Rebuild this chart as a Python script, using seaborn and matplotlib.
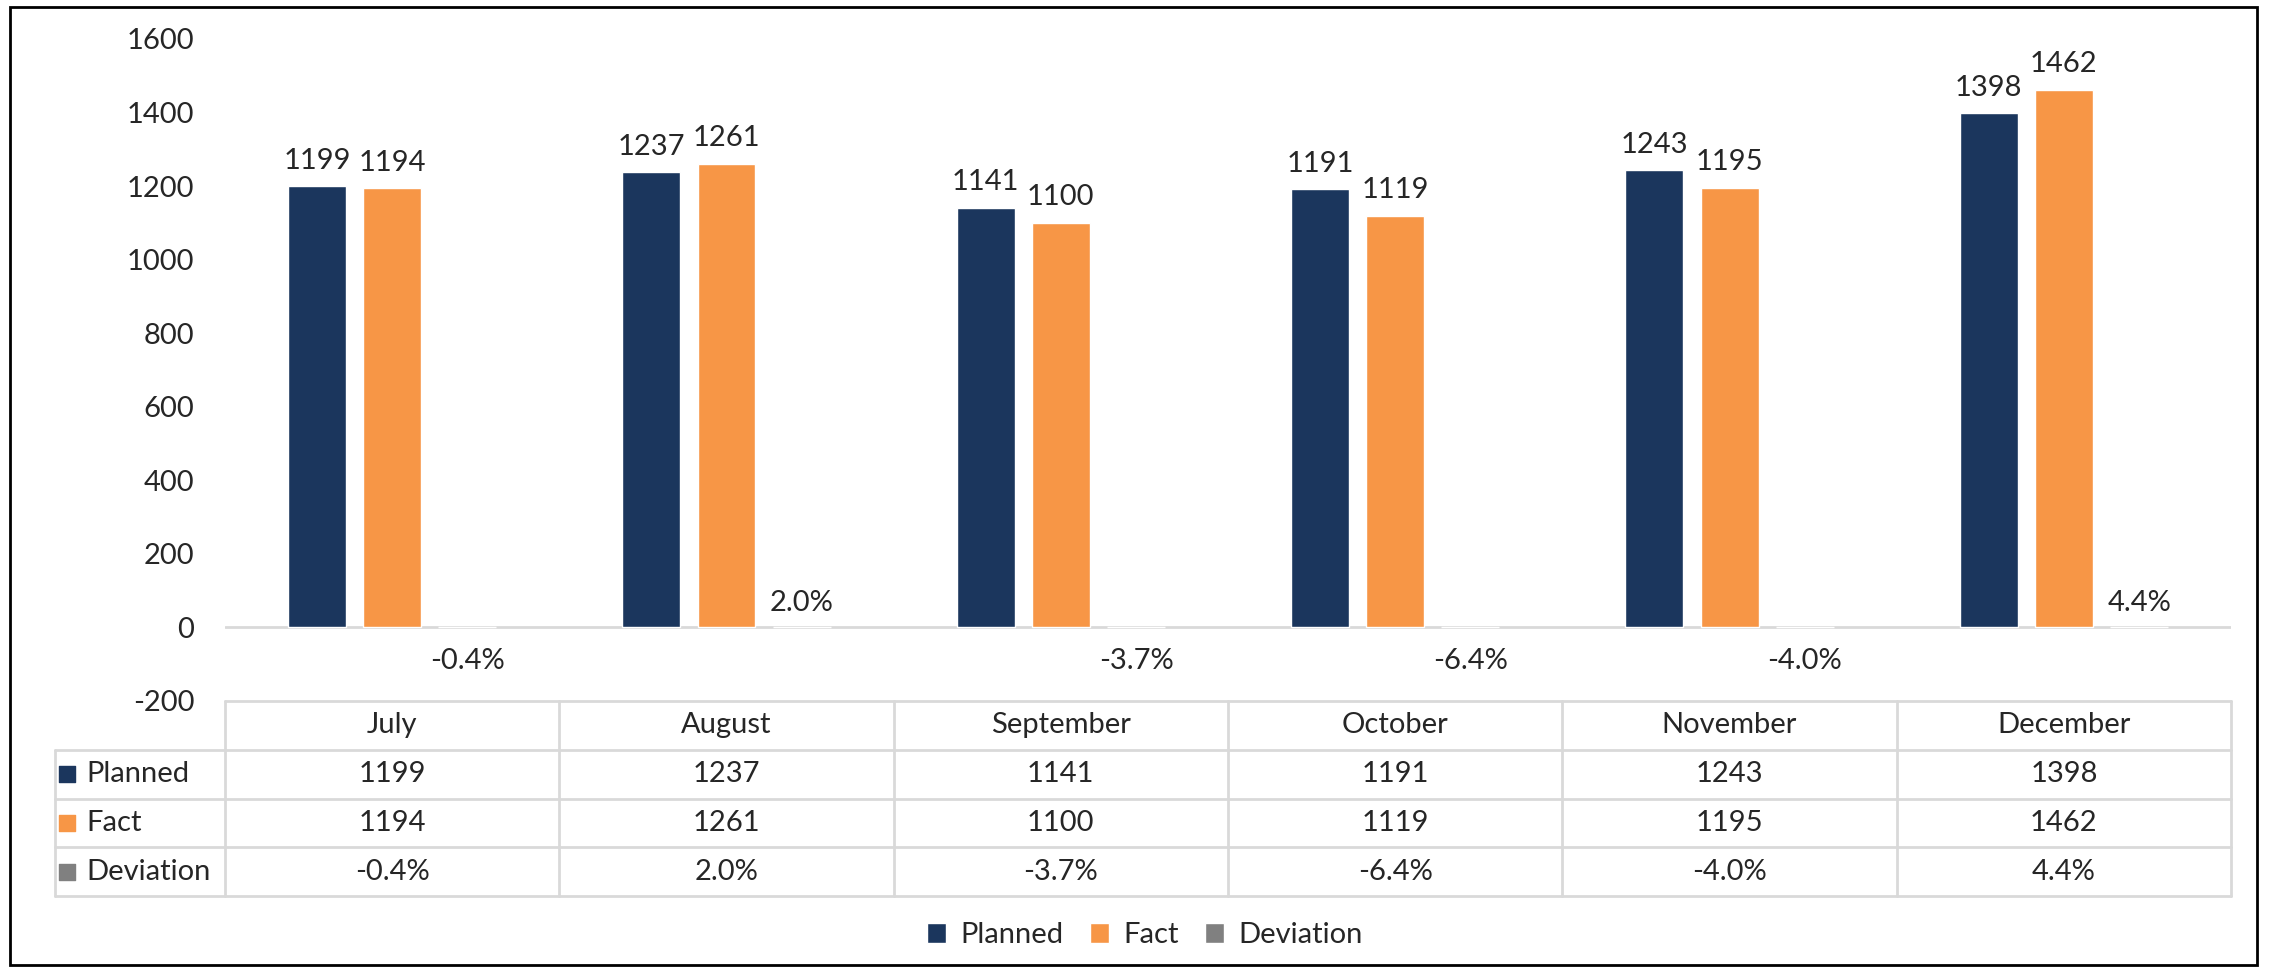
import numpy as np
import pandas as pd
import matplotlib
matplotlib.use("Agg")
import matplotlib.pyplot as plt
from matplotlib.patches import Patch, Rectangle
import seaborn as sns

# chart data
months = ['July', 'August', 'September', 'October', 'November', 'December']
planned = [1199, 1237, 1141, 1191, 1243, 1398]
fact = [1194, 1261, 1100, 1119, 1195, 1462]
deviation = [-0.004, 0.020, -0.037, -0.064, -0.040, 0.044]
series = ['Planned', 'Fact', 'Deviation']
colors = ['#1b365d', '#f79646', '#808080']
yticks = [-200, 0, 200, 400, 600, 800, 1000, 1200, 1400, 1600]

sns.set_style('white')
plt.rcParams['font.family'] = ['Lato', 'DejaVu Sans']
FS = 21
GRID = '#d9d9d9'

df = pd.DataFrame({
    'month': months * 3,
    'series': np.repeat(series, len(months)),
    'value': planned + fact + deviation,
})

fig = plt.figure(figsize=(22.72, 9.73), dpi=100)

# main bar area
ax = fig.add_axes([0.099, 0.2796, 0.883, 0.6804])
sns.barplot(data=df, x='month', y='value', hue='series', hue_order=series,
            palette=colors, width=0.675, gap=0.23, legend=False, ax=ax,
            saturation=1, errorbar=None)
ax.set_xlim(-0.5, 5.5)
ax.set_ylim(-200, 1600)
ax.set_yticks(yticks)
ax.set_yticklabels([str(t) for t in yticks], fontsize=FS)
ax.tick_params(axis='y', length=0, pad=22)
ax.set_xticks([])
ax.set_xlabel('')
ax.set_ylabel('')
for s in ax.spines.values():
    s.set_visible(False)
ax.axhline(0, color=GRID, lw=2, zorder=0)

ax.bar_label(ax.containers[0], labels=[str(v) for v in planned], padding=9, fontsize=FS)
ax.bar_label(ax.containers[1], labels=[str(v) for v in fact], padding=9, fontsize=FS)
# deviation labels: positive above the zero line, negative a bit further below
ax.bar_label(ax.containers[2], labels=[f'{v:.1%}' if v > 0 else '' for v in deviation],
             padding=8, fontsize=FS)
ax.bar_label(ax.containers[2], labels=[f'{v:.1%}' if v < 0 else '' for v in deviation],
             padding=15, fontsize=FS)

# data table under the chart
tab = fig.add_axes([0.099, 0.0791, 0.883, 0.2004])
tab.set_xlim(-0.5, 5.5)
tab.set_ylim(4, 0)
tab.axis('off')
label_left = -1.008
kw = dict(color=GRID, lw=2, clip_on=False)
tab.plot([-0.5, 5.5], [0, 0], **kw)
for r in range(1, 5):
    tab.plot([label_left, 5.5], [r, r], **kw)
for c in range(7):
    tab.plot([c - 0.5, c - 0.5], [0, 4], **kw)
tab.plot([label_left, label_left], [1, 4], **kw)

for i, m in enumerate(months):
    tab.text(i, 0.5, m, ha='center', va='center', fontsize=FS)
rows = [[str(v) for v in planned], [str(v) for v in fact], [f'{v:.1%}' for v in deviation]]
for r, (name, vals, col) in enumerate(zip(series, rows, colors)):
    y = r + 1.5
    tab.scatter([-0.972], [y], marker='s', s=120, color=col, clip_on=False)
    tab.text(-0.915, y, name, ha='left', va='center', fontsize=FS)
    for i, v in enumerate(vals):
        tab.text(i, y, v, ha='center', va='center', fontsize=FS)

# legend at the bottom
handles = [Patch(facecolor=c, label=s) for s, c in zip(series, colors)]
fig.legend(handles=handles, loc='center', bbox_to_anchor=(0.504, 0.039), ncol=3,
           frameon=False, fontsize=FS, handlelength=0.65, handleheight=0.65,
           handletextpad=0.5, columnspacing=0.9)

# outer border
fig.patches.append(Rectangle((0.0045, 0.008), 0.989, 0.985, transform=fig.transFigure,
                             fill=False, edgecolor='black', lw=2))

fig.savefig('out.png', dpi=100)
